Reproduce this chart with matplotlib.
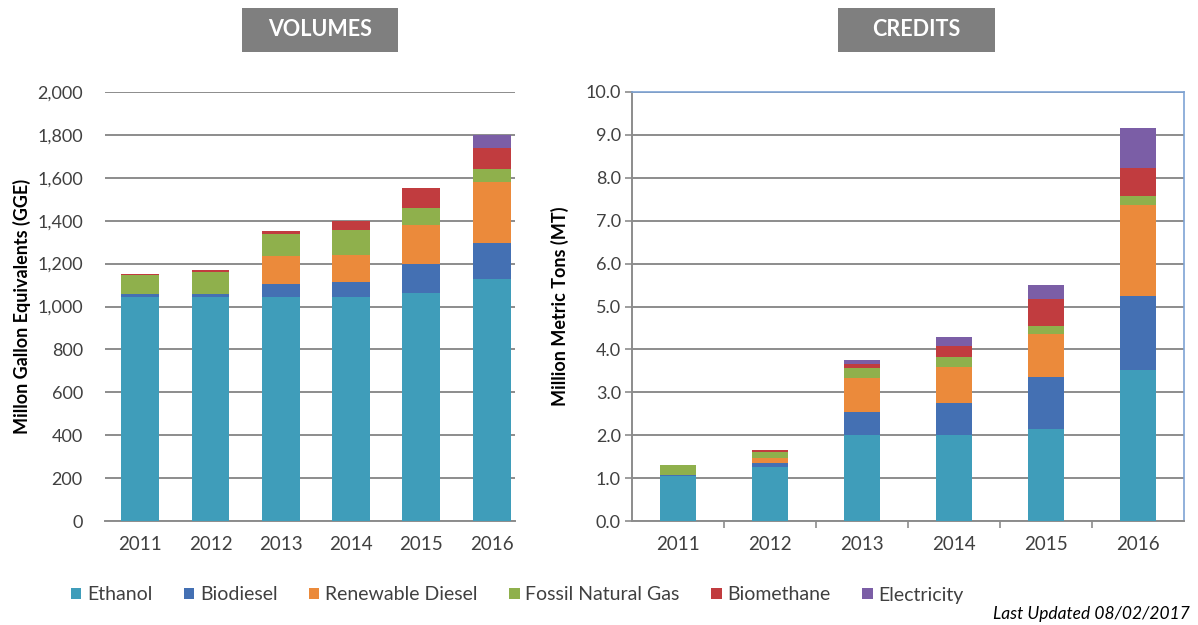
import numpy as np
import matplotlib
matplotlib.use("Agg")
import matplotlib.pyplot as plt
from matplotlib.patches import Patch, Rectangle

plt.rcParams['font.family'] = ['Lato', 'DejaVu Sans']

# ----------------------------
# Data
# ----------------------------
YEARS = ["2011", "2012", "2013", "2014", "2015", "2016"]
FUELS = ["Ethanol", "Biodiesel", "Renewable Diesel", "Fossil Natural Gas",
         "Biomethane", "Electricity"]

# Volumes, million GGE
vol_ethanol = [1046, 1046, 1045, 1045, 1065, 1127]
vol_biodiesel = [11, 14, 59, 71, 132, 171]
vol_renewable = [0, 0, 132, 123, 184, 282]
vol_fng = [89, 101, 104, 116, 79, 59]
vol_biomethane = [5, 8, 12, 43, 93, 101]
vol_electricity = [0, 0, 0, 0, 0, 58]

# Credits, million metric tons
cr_ethanol = [1.05, 1.25, 2.01, 2.01, 2.14, 3.52]
cr_biodiesel = [0.03, 0.11, 0.53, 0.73, 1.21, 1.72]
cr_renewable = [0.0, 0.10, 0.80, 0.85, 1.00, 2.13]
cr_fng = [0.23, 0.15, 0.22, 0.24, 0.20, 0.21]
cr_biomethane = [0.0, 0.04, 0.11, 0.24, 0.62, 0.66]
cr_electricity = [0.0, 0.0, 0.09, 0.23, 0.34, 0.91]

COLORS = ["#3f9dba", "#4470b3", "#eb8a3b", "#8fb04c", "#c13c3f", "#7b5ea6"]
GRID = "#8c8c8c"
TEXT = "#404040"

W, H = 1198, 625
fig = plt.figure(figsize=(W / 100, H / 100), dpi=100)


def px_axes(x0, y0, x1, y1):
    return fig.add_axes([x0 / W, 1 - y1 / H, (x1 - x0) / W, (y1 - y0) / H])


def stacked(ax, series, width):
    x = np.arange(len(YEARS))
    bottom = np.zeros(len(YEARS))
    for vals, color in zip(series, COLORS):
        vals = np.array(vals, dtype=float)
        ax.bar(x, vals, width, bottom=bottom, color=color, zorder=3, linewidth=0)
        bottom += vals
    ax.set_xticks(x)
    ax.set_xticklabels(YEARS, fontsize=13.5, color=TEXT)


# ----------------------------
# Volumes
# ----------------------------
ax1 = px_axes(105, 92, 515, 521)
stacked(ax1, [vol_ethanol, vol_biodiesel, vol_renewable, vol_fng,
              vol_biomethane, vol_electricity], 0.54)
ax1.set_xlim(-0.5, 5.33)
ax1.set_ylim(0, 2000)
ax1.set_yticks(np.arange(0, 2001, 200))
ax1.set_yticklabels([f"{v:,}" for v in range(0, 2001, 200)], fontsize=13, color=TEXT)
ax1.yaxis.grid(True, color=GRID, linewidth=1.4, zorder=0)
ax1.set_axisbelow(True)
for s in ["top", "right", "left"]:
    ax1.spines[s].set_visible(False)
ax1.spines["bottom"].set_color(GRID)
ax1.spines["bottom"].set_linewidth(1.4)
ax1.tick_params(axis="both", length=0)
ax1.tick_params(axis="y", pad=16)
ax1.tick_params(axis="x", pad=11)
ax1.set_ylabel("Millon Gallon Equivalents (GGE)", fontsize=13, fontweight="bold",
               color="black")
ax1.yaxis.set_label_coords(-0.18, 0.5)

# ----------------------------
# Credits
# ----------------------------
ax2 = px_axes(632, 92, 1184, 521)
stacked(ax2, [cr_ethanol, cr_biodiesel, cr_renewable, cr_fng,
              cr_biomethane, cr_electricity], 0.39)
ax2.set_xlim(-0.5, 5.5)
ax2.set_ylim(0, 10)
ax2.set_yticks(np.arange(0, 10.01, 1.0))
ax2.set_yticklabels([f"{v:.1f}" for v in np.arange(0, 10.01, 1.0)], fontsize=13, color=TEXT)
ax2.yaxis.grid(True, color=GRID, linewidth=1.4, zorder=0)
ax2.set_axisbelow(True)
ax2.set_xticks(np.arange(0.5, 5.0, 1.0), minor=True)
ax2.tick_params(axis="x", which="major", length=0, pad=11)
ax2.tick_params(axis="x", which="minor", length=5, color=GRID, width=1.2)
ax2.tick_params(axis="y", length=5, color=GRID, width=1.2, pad=3)
for s in ["left", "bottom"]:
    ax2.spines[s].set_color(GRID)
    ax2.spines[s].set_linewidth(1.4)
for s in ["top", "right"]:
    ax2.spines[s].set_color("#7ea3d4")
    ax2.spines[s].set_linewidth(1.2)
ax2.set_ylabel("Million Metric Tons (MT)", fontsize=13, fontweight="bold",
               color="black")
ax2.yaxis.set_label_coords(-0.115, 0.5)

# ----------------------------
# Header boxes
# ----------------------------
for label, x0, x1 in [("VOLUMES", 242, 398), ("CREDITS", 838, 995)]:
    fig.patches.append(Rectangle((x0 / W, 1 - 52 / H), (x1 - x0) / W, 44 / H,
                                 transform=fig.transFigure, facecolor="#7f7f7f",
                                 edgecolor="none"))
    fig.text((x0 + x1) / 2 / W, 1 - 30 / H, label, ha="center", va="center",
             fontsize=15.5, fontweight="bold", color="white")

# ----------------------------
# Legend and footnote
# ----------------------------
handles = [Patch(facecolor=c, edgecolor="none") for c in COLORS]
fig.legend(handles, FUELS, loc="center left", bbox_to_anchor=(53 / W, 1 - 595 / H),
           ncol=6, frameon=False, fontsize=14, handlelength=0.55, handleheight=0.55,
           handletextpad=0.3, columnspacing=1.6, labelcolor=TEXT)
fig.text(1190 / W, 1 - 614 / H, "Last Updated 08/02/2017", ha="right", va="center",
         fontsize=12.5, style="italic", color="black")

fig.savefig("out.png", dpi=100)
